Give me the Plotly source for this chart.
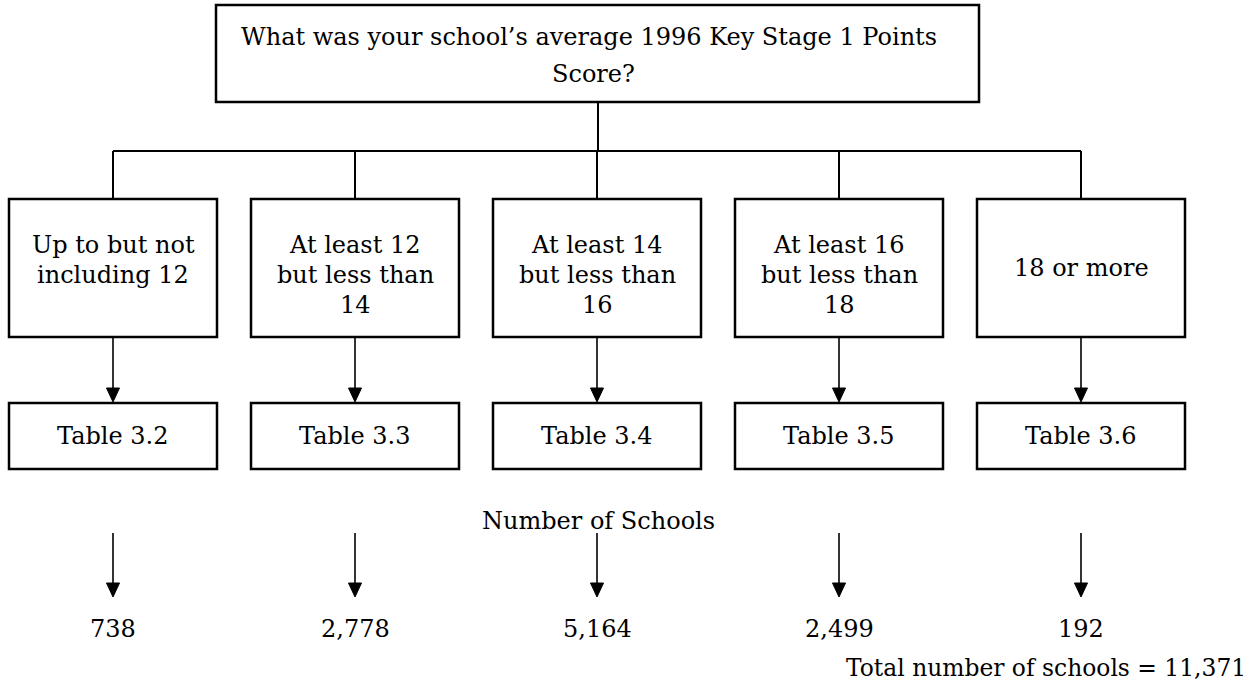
import plotly.graph_objects as go

# ---- data ----
question_lines = ["What was your school\u2019s average 1996 Key Stage 1 Points", "Score?"]
categories = [
    "Up to but not<br>including 12",
    "At least 12<br>but less than<br>14",
    "At least 14<br>but less than<br>16",
    "At least 16<br>but less than<br>18",
    "18 or more",
]
tables = ["Table 3.2", "Table 3.3", "Table 3.4", "Table 3.5", "Table 3.6"]
schools = [738, 2778, 5164, 2499, 192]
middle_label = "Number of Schools"
total_label = "Total number of schools = {:,}".format(sum(schools))

FONT = "DejaVu Serif"
FS = 24
W, H = 1254, 691

fig = go.Figure()
shapes = []
annos = []

def line(x0, y0, x1, y1, w=2):
    shapes.append(dict(type="line", x0=x0, y0=y0, x1=x1, y1=y1,
                       line=dict(color="black", width=w)))

def rect(x0, y0, x1, y1, w=2.5):
    shapes.append(dict(type="rect", x0=x0, y0=y0, x1=x1, y1=y1,
                       line=dict(color="black", width=w), fillcolor="white"))

def arrow(x, y0, y1, hw=6.5, hl=14):
    line(x, y0, x1=x, y1=y1 - hl + 1, w=1.6)
    shapes.append(dict(type="path",
                       path=f"M {x-hw},{y1-hl} L {x+hw},{y1-hl} L {x},{y1} Z",
                       fillcolor="black", line=dict(color="black", width=1)))

def text(x, y, s, xanchor="center", size=FS):
    annos.append(dict(x=x, y=y, text=s, showarrow=False, xanchor=xanchor,
                      yanchor="middle", font=dict(family=FONT, size=size, color="black")))

# top box
rect(216, 5, 979, 102)
text(589, 37, question_lines[0])
text(593, 74, question_lines[1])

# connectors
box_left0, box_w, step = 9, 208, 242
centers = [box_left0 + box_w / 2 + i * step for i in range(len(categories))]
line(598, 102, 598, 151)
line(centers[0], 151, centers[-1], 151)

for i, (cat, tab, n) in enumerate(zip(categories, tables, schools)):
    cx = centers[i]
    x0 = box_left0 + i * step
    x1 = x0 + box_w
    line(cx, 151, cx, 199)
    rect(x0, 199, x1, 337)
    parts = cat.split("<br>")
    if len(parts) == 1:
        text(cx, 268, parts[0])
    else:
        for k, p in enumerate(parts):
            text(cx, 245 + 30 * k, p)
    arrow(cx, 337, 402)
    rect(x0, 403, x1, 469)
    text(cx, 436, tab)
    arrow(cx, 533, 597)
    text(cx, 629, "{:,}".format(n))

text(598, 521, middle_label)
text(1248, 668, total_label, xanchor="right", size=23.4)

fig.update_layout(
    width=W, height=H, margin=dict(l=0, r=0, t=0, b=0),
    paper_bgcolor="white", plot_bgcolor="white",
    xaxis=dict(range=[0, W], visible=False, fixedrange=True),
    yaxis=dict(range=[H, 0], visible=False, fixedrange=True),
    shapes=shapes, annotations=annos, showlegend=False,
)
fig.write_html("out.html", config={"displayModeBar": False},
               post_script="document.body.style.margin='0';document.body.style.overflow='hidden';")
